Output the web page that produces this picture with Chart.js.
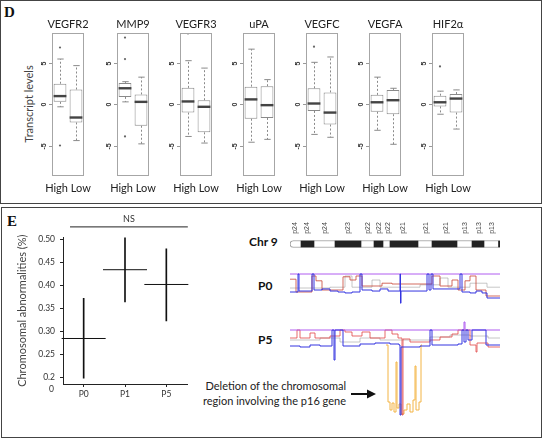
<!DOCTYPE html>
<html>
<head>
<meta charset="utf-8">
<script src="https://cdn.jsdelivr.net/npm/chart.js@4.4.1/dist/chart.umd.min.js"></script>
<style>
  body { margin: 0; width: 544px; height: 439px; position: relative; overflow: hidden; background: #fff; font-family: Lato, sans-serif; }
  .panel { position: absolute; border: 1px solid #444; box-sizing: border-box; }
  .abs { position: absolute; white-space: nowrap; }
  .letter { font-family: "Liberation Serif", serif; font-weight: bold; font-size: 15px; color: #111; }
  .bold { font-weight: bold; color: #111; }
  canvas { position: absolute; }
</style>
</head>
<body>
<div class="panel" style="left:0;top:0;width:542px;height:204px"></div>
<div class="panel" style="left:1px;top:207px;width:541px;height:231px"></div>
<div class="abs letter" style="left:4px;top:4px">D</div>
<div class="abs letter" style="left:7px;top:213px">E</div>
<div class="abs" style="left:28px;top:104px;font-size:11px;color:#444;transform:translate(-50%,-50%) rotate(-90deg)">Transcript levels</div>

<div class="abs bold" style="left:249px;top:234px;font-size:12px">Chr 9</div>
<div class="abs bold" style="left:258px;top:278px;font-size:12px">P0</div>
<div class="abs bold" style="left:258px;top:332px;font-size:12px">P5</div>
<div class="abs" style="right:198px;top:378px;font-size:11px;line-height:15px;text-align:right;color:#222">Deletion of the chromosomal<br>region involving the p16 gene</div>
<svg class="abs" style="left:351px;top:388px" width="26" height="12">
  <line x1="0" y1="6" x2="18" y2="6" stroke="#111" stroke-width="2"/>
  <polygon points="16,1.5 25,6 16,10.5" fill="#111"/>
</svg>

<div id="charts"></div>

<script>
// panel D: transcript levels, [High, Low] for every gene
const genes = ['VEGFR2', 'MMP9', 'VEGFR3', 'uPA', 'VEGFC', 'VEGFA', 'HIF2α']
const groups = ['High', 'Low']
const boxQ1 = [[0.3, -2.2], [0.9, -2.6], [-1.0, -3.4], [-1.75, -1.65], [-0.8, -2.45], [-0.9, -1.2], [-0.25, -1.0]]
const boxMedian = [[1.0, -1.6], [1.95, 0.3], [0.35, -0.3], [0.6, -0.1], [0.1, -1.0], [0.25, 0.5], [0.25, 0.7]]
const boxQ3 = [[2.5, 1.8], [2.6, 1.2], [2.0, 0.5], [2.15, 2.2], [1.95, 1.45], [1.15, 1.75], [1.05, 1.25]]
const whiskerLo = [[-0.3, -4.4], [0.3, -4.8], [-3.9, -4.7], [-4.6, -4.25], [-3.65, -4.0], [-3.15, -4.85], [-1.2, -3.0]]
const whiskerHi = [[5.5, 4.7], [2.75, 3.3], [5.3, 4.4], [6.7, 3.0], [5.1, 5.75], [3.3, 1.95], [1.6, 1.75]]
const outliers = [[[6.9, -5.0], []], [[8.1, 5.5, -3.9], []], [[8.6], []], [[], []], [[7.0], []], [[], []], [[4.6], []]]
const levelTicks = [-5, 0, 5]

// panel E left: chromosomal abnormalities per passage
const passages = ['P0', 'P1', 'P5']
const abnMean = [0.285, 0.434, 0.402]
const abnLow = [0.199, 0.364, 0.323]
const abnHigh = [0.372, 0.504, 0.479]
const abnTicks = [0.2, 0.25, 0.3, 0.35, 0.4, 0.45, 0.5]
const abnTickLabels = ['0.2', '0.25', '0.30', '0.35', '0.40', '0.45', '0.50']
const abnBreakLabel = '0'
const abnBreakAt = 0.1757
const sigLabel = 'NS'

// panel E right: chromosome 9p ideogram (Mb) and copy number tracks
const chrLength = 42
const darkBands = [[2.2, 4.8], [9, 14.2], [16.8, 18.6], [20, 25.6], [28.4, 33.4], [36.4, 38.8], [41.7, 42]]
const bandNames = ['p24', 'p24', 'p24', 'p23', 'p22', 'p22', 'p22', 'p21', 'p21', 'p21', 'p13', 'p13', 'p13']
const bandNamePos = [1, 3.4, 7, 11.6, 15.6, 17.8, 19.6, 22.6, 27.2, 31.2, 35, 37.8, 40.4]

const p0Purple = [[0, 2.25], [42, 2.25]]
const p0Blue = [[0, 0], [1.6, 2.25], [1.8, 0.12], [4.4, 2.25], [4.8, 0.25], [6.4, 0.38], [8, 0.12], [9.6, 0], [11, -0.12],
  [12.4, 0], [14, 2.25], [14.4, 0.25], [16.4, 0.12], [18, 0.38], [19.6, 0.12], [22, 2.25], [22.1, -1.4], [22.2, 0.12],
  [27.4, 2.25], [27.8, 0.25], [28.2, 2.25], [28.6, 0.38], [34, 2.25], [34.4, 0], [36, -0.12], [37.2, 0.12], [38.4, -0.12],
  [39.4, -0.75], [42, -0.75]]
const p0Red = [[0, 1.6], [1.2, 0], [4.4, 2], [5.2, 1.4], [6.4, 0.25], [10.6, 1.9], [12, 1.5], [13.2, 2], [14.4, 0.75],
  [18.4, 1.1], [20.4, 1], [28.4, 2], [30, 0.75], [32.4, 1.5], [33.6, 0.25], [35, 1.4], [36, 2], [37.2, 0.25], [39.2, -0.5], [42, -0.5]]
const p0Grey = [[0, 0.5], [8, 0.6], [11, 2], [12.4, 0.6], [16.4, 1.5], [18, 0.6], [26, 0.9], [30, 1.75], [31.6, 0.6],
  [36, 1.1], [39.4, 0.6], [42, 0.6]]

const p5Purple = [[0, 1.5], [34.6, 1.5], [34.8, 2.3], [35, 1.5], [42, 1.5]]
const p5Blue = [[0, -0.1], [2, -0.2], [4, 0], [6, -0.1], [8.4, 1.5], [8.8, -1.5], [9, 1.5], [10.6, -0.1], [14, 0.1],
  [17, 0.2], [20, 0.1], [21.8, 0], [22, -7], [22.2, -0.2], [26, -0.1], [28, 1.5], [28.4, 0], [33.6, 0.1], [34.4, 1.5],
  [34.8, 0.3], [35.2, 1.5], [35.6, 0.5], [36.4, 1.5], [39.2, 0], [42, 0]]
const p5Red = [[0, 0.7], [1.4, 1.5], [2, 0.7], [4, 1.2], [5, 0.7], [8, 0.9], [10, 1.5], [11, 1.3], [12.4, 0.9], [14.4, 1.3],
  [16, 0.7], [19, 1.5], [20.4, 1.1], [21.6, 0.7], [22.4, -7], [22.6, 0.6], [24, 0.3], [28, 0.5], [30, 0.8], [32.4, 1.1],
  [33.6, 1.5], [36, 0], [37.2, -0.7], [37.4, 0.2], [39.6, -0.2], [42, -0.2]]
const p5Orange = [[19.2, 0], [19.6, -5.7], [20, -6.5], [20.4, -5.8], [20.8, -6.7], [21.2, -1.7], [21.4, -6.3], [21.8, -5.9],
  [22.2, -6.9], [22.8, -6.5], [23.4, -5.9], [24, -6.7], [24.6, -5.5], [25, -2.1], [25.2, -6.5], [25.8, -5.7], [26.2, 0], [26.4, 0]]
const p5Grey = [[0, 0.5], [6, 0.7], [10, 0.3], [14, 0.7], [18, 0.5], [28, 0.8], [32, 1], [36, 0.9], [39.6, 0.7], [42, 0.7]]

Chart.defaults.font.family = 'Lato'
Chart.defaults.animation = false
Chart.defaults.responsive = false
Chart.defaults.devicePixelRatio = 1
Chart.defaults.plugins.legend.display = false
Chart.defaults.plugins.tooltip.enabled = false

let holder = document.getElementById('charts')
function makeCanvas(left, top, w, h) {
  let c = document.createElement('canvas')
  c.width = w
  c.height = h
  c.style.left = left + 'px'
  c.style.top = top + 'px'
  holder.appendChild(c)
  return c
}

// R style box plot drawing on top of the floating bars
const rBoxPlugin = {
  id: 'rbox',
  afterDatasetsDraw(chart, args, opts) {
    let g = opts.gene
    let ctx = chart.ctx
    let a = chart.chartArea
    let y = chart.scales.y
    let boxes = chart.getDatasetMeta(0).data
    ctx.save()
    ctx.strokeStyle = '#a6a6a6'
    ctx.lineWidth = 1
    ctx.strokeRect(a.left + 0.5, a.top + 0.5, a.right - a.left - 1, a.bottom - a.top - 1)

    boxes.forEach((b, j) => {
      let x = Math.round(b.x) + 0.5
      let half = b.width / 2
      ctx.strokeStyle = '#8a8a8a'
      ctx.lineWidth = 1
      ctx.setLineDash([2, 2])
      ctx.beginPath()
      ctx.moveTo(x, y.getPixelForValue(boxQ3[g][j]))
      ctx.lineTo(x, y.getPixelForValue(whiskerHi[g][j]))
      ctx.moveTo(x, y.getPixelForValue(boxQ1[g][j]))
      ctx.lineTo(x, y.getPixelForValue(whiskerLo[g][j]))
      ctx.stroke()
      ctx.setLineDash([])
      ctx.beginPath()
      ctx.moveTo(x - half / 2, y.getPixelForValue(whiskerHi[g][j]))
      ctx.lineTo(x + half / 2, y.getPixelForValue(whiskerHi[g][j]))
      ctx.moveTo(x - half / 2, y.getPixelForValue(whiskerLo[g][j]))
      ctx.lineTo(x + half / 2, y.getPixelForValue(whiskerLo[g][j]))
      ctx.stroke()
      ctx.strokeStyle = '#444'
      ctx.lineWidth = 2.4
      ctx.beginPath()
      ctx.moveTo(b.x - half, y.getPixelForValue(boxMedian[g][j]))
      ctx.lineTo(b.x + half, y.getPixelForValue(boxMedian[g][j]))
      ctx.stroke()
    })

    ctx.strokeStyle = '#999'
    ctx.lineWidth = 1
    ctx.fillStyle = '#333'
    ctx.font = 'bold 7px "Liberation Sans"'
    ctx.textAlign = 'center'
    ctx.textBaseline = 'middle'
    levelTicks.forEach(v => {
      let py = Math.round(y.getPixelForValue(v)) + 0.5
      ctx.beginPath()
      ctx.moveTo(a.left - 3, py)
      ctx.lineTo(a.left, py)
      ctx.stroke()
      ctx.save()
      ctx.translate(a.left - 7.5, py)
      ctx.rotate(-Math.PI / 2)
      ctx.fillText(String(v), 0, 0)
      ctx.restore()
    })

    let cx = (a.left + a.right) / 2
    ctx.fillStyle = '#222'
    ctx.font = '11px Lato'
    ctx.fillText(genes[g], cx, a.top - 9)
    ctx.fillText(groups.join(' '), cx, a.bottom + 12)
    ctx.restore()
  }
}

function boxChart(g) {
  let frameLeft = 53.6 + 63 * g - (g === 0 ? 1.8 : 0)
  let canvas = makeCanvas(frameLeft - 26, 13, 66, 191)
  let points = []
  groups.forEach((name, j) => outliers[g][j].forEach(v => points.push({ x: name, y: v })))
  return new Chart(canvas, {
    type: 'bar',
    data: {
      labels: groups,
      datasets: [{
        data: groups.map((name, j) => [boxQ1[g][j], boxQ3[g][j]]),
        backgroundColor: '#fff',
        borderColor: '#8a8a8a',
        borderWidth: 1,
        borderSkipped: false,
        barPercentage: 0.8,
        categoryPercentage: 1
      }, {
        type: 'line',
        data: points,
        showLine: false,
        pointRadius: 1.1,
        pointBackgroundColor: '#666',
        pointBorderWidth: 0
      }]
    },
    options: {
      layout: { padding: { left: 26, right: 8, top: 20, bottom: 28 } },
      scales: {
        x: { type: 'category', display: false, offset: true },
        y: { display: false, min: -8.7, max: 8.66 }
      },
      plugins: { rbox: { gene: g } }
    },
    plugins: [rBoxPlugin]
  })
}

// NS bar and broken axis label
const annotePlugin = {
  id: 'annote',
  afterDraw(chart) {
    let ctx = chart.ctx
    let x = chart.scales.x
    let y = chart.scales.y
    let l = x.getPixelForValue(-0.33)
    let r = x.getPixelForValue(2.52)
    ctx.save()
    ctx.strokeStyle = '#222'
    ctx.lineWidth = 1
    ctx.beginPath()
    ctx.moveTo(l, chart.chartArea.top - 10.5)
    ctx.lineTo(r, chart.chartArea.top - 10.5)
    ctx.stroke()
    ctx.fillStyle = '#333'
    ctx.font = '9px Lato'
    ctx.textAlign = 'center'
    ctx.textBaseline = 'middle'
    ctx.fillText(sigLabel, (l + r) / 2, chart.chartArea.top - 18)
    ctx.textAlign = 'right'
    ctx.font = '8.5px Lato'
    ctx.fillText(abnBreakLabel, y.right - 9, y.getPixelForValue(abnBreakAt))
    ctx.restore()
  }
}

function abnChart() {
  let canvas = makeCanvas(0, 210, 210, 197)
  return new Chart(canvas, {
    type: 'bar',
    data: {
      labels: passages,
      datasets: [{
        data: passages.map((p, i) => [abnLow[i], abnHigh[i]]),
        backgroundColor: '#111',
        barThickness: 1,
        borderWidth: 0
      }, {
        type: 'line',
        data: abnMean,
        showLine: false,
        pointStyle: 'line',
        pointRadius: 22,
        pointBorderColor: '#111',
        pointBorderWidth: 1
      }]
    },
    options: {
      layout: { padding: { left: 16, right: 10, top: 27.4, bottom: 0 } },
      scales: {
        x: {
          offset: true,
          grid: { offset: false, drawOnChartArea: false, tickLength: 3, color: '#222' },
          border: { color: '#222' },
          ticks: { font: { size: 8.5 }, color: '#333', padding: 2 },
          afterFit(s) { s.height = 20 }
        },
        y: {
          min: 0.1864,
          max: 0.504,
          afterBuildTicks(s) { s.ticks = abnTicks.map(v => ({ value: v })) },
          grid: { drawOnChartArea: false, tickLength: 3, color: '#222' },
          border: { color: '#222' },
          ticks: { font: { size: 8.5 }, color: '#333', padding: 5, callback: (v, i) => abnTickLabels[i] },
          title: { display: true, text: 'Chromosomal abnormalities (%)', font: { size: 11 }, color: '#444', padding: 0 },
          afterFit(s) { s.width = 47 }
        }
      }
    },
    plugins: [annotePlugin]
  })
}

const bandLabelPlugin = {
  id: 'bandLabels',
  afterDraw(chart) {
    let ctx = chart.ctx
    let x = chart.scales.x
    ctx.save()
    ctx.fillStyle = '#444'
    ctx.font = '7px "Liberation Sans"'
    ctx.textAlign = 'center'
    ctx.textBaseline = 'middle'
    bandNames.forEach((name, i) => {
      ctx.save()
      ctx.translate(x.getPixelForValue(bandNamePos[i]), chart.chartArea.top - 12)
      ctx.rotate(-Math.PI / 2)
      ctx.fillText(name, 0, 0)
      ctx.restore()
    })
    ctx.restore()
  }
}

function ideogram() {
  let canvas = makeCanvas(288, 220, 214, 30)
  let sets = [{
    data: [[0, chrLength]],
    backgroundColor: '#fff',
    borderColor: '#9a9a9a',
    borderWidth: 1,
    borderSkipped: false,
    borderRadius: { topLeft: 4, bottomLeft: 4, topRight: 0, bottomRight: 0 },
    grouped: false,
    barThickness: 7
  }]
  darkBands.forEach(b => sets.push({
    data: [b], backgroundColor: '#222', borderWidth: 0, grouped: false, barThickness: 6
  }))
  return new Chart(canvas, {
    type: 'bar',
    data: { labels: ['9p'], datasets: sets.reverse() },
    options: {
      indexAxis: 'y',
      layout: { padding: { left: 2, right: 2, top: 20, bottom: 2 } },
      scales: {
        x: { type: 'linear', display: false, min: 0, max: chrLength },
        y: { display: false }
      }
    },
    plugins: [bandLabelPlugin]
  })
}

function track(top, h, yMin, yMax, series) {
  let canvas = makeCanvas(290, top, 210, h)
  return new Chart(canvas, {
    type: 'line',
    data: {
      datasets: series.map(s => ({
        data: s.pts.map(p => ({ x: p[0], y: p[1] })),
        borderColor: s.color,
        borderWidth: s.width,
        stepped: true,
        pointRadius: 0,
        clip: 3
      }))
    },
    options: {
      scales: {
        x: { type: 'linear', display: false, min: 0, max: chrLength },
        y: { display: false, min: yMin, max: yMax }
      }
    }
  })
}

for (let g = 0; g < genes.length; g++) boxChart(g)
abnChart()
ideogram()
track(268, 40, -2, 3, [
  { pts: p0Blue, color: '#3535e0', width: 1 },
  { pts: p0Purple, color: '#b05cf0', width: 1 },
  { pts: p0Red, color: 'rgba(200,70,55,0.8)', width: 1 },
  { pts: p0Grey, color: 'rgba(160,160,160,0.6)', width: 1 }
])
track(320, 100, -7.5, 2.5, [
  { pts: p5Blue, color: '#3535e0', width: 1 },
  { pts: p5Purple, color: '#b05cf0', width: 1 },
  { pts: p5Red, color: 'rgba(225,70,70,0.8)', width: 1 },
  { pts: p5Orange, color: '#f3b444', width: 1 },
  { pts: p5Grey, color: 'rgba(160,160,160,0.6)', width: 1 }
])
</script>
</body>
</html>
